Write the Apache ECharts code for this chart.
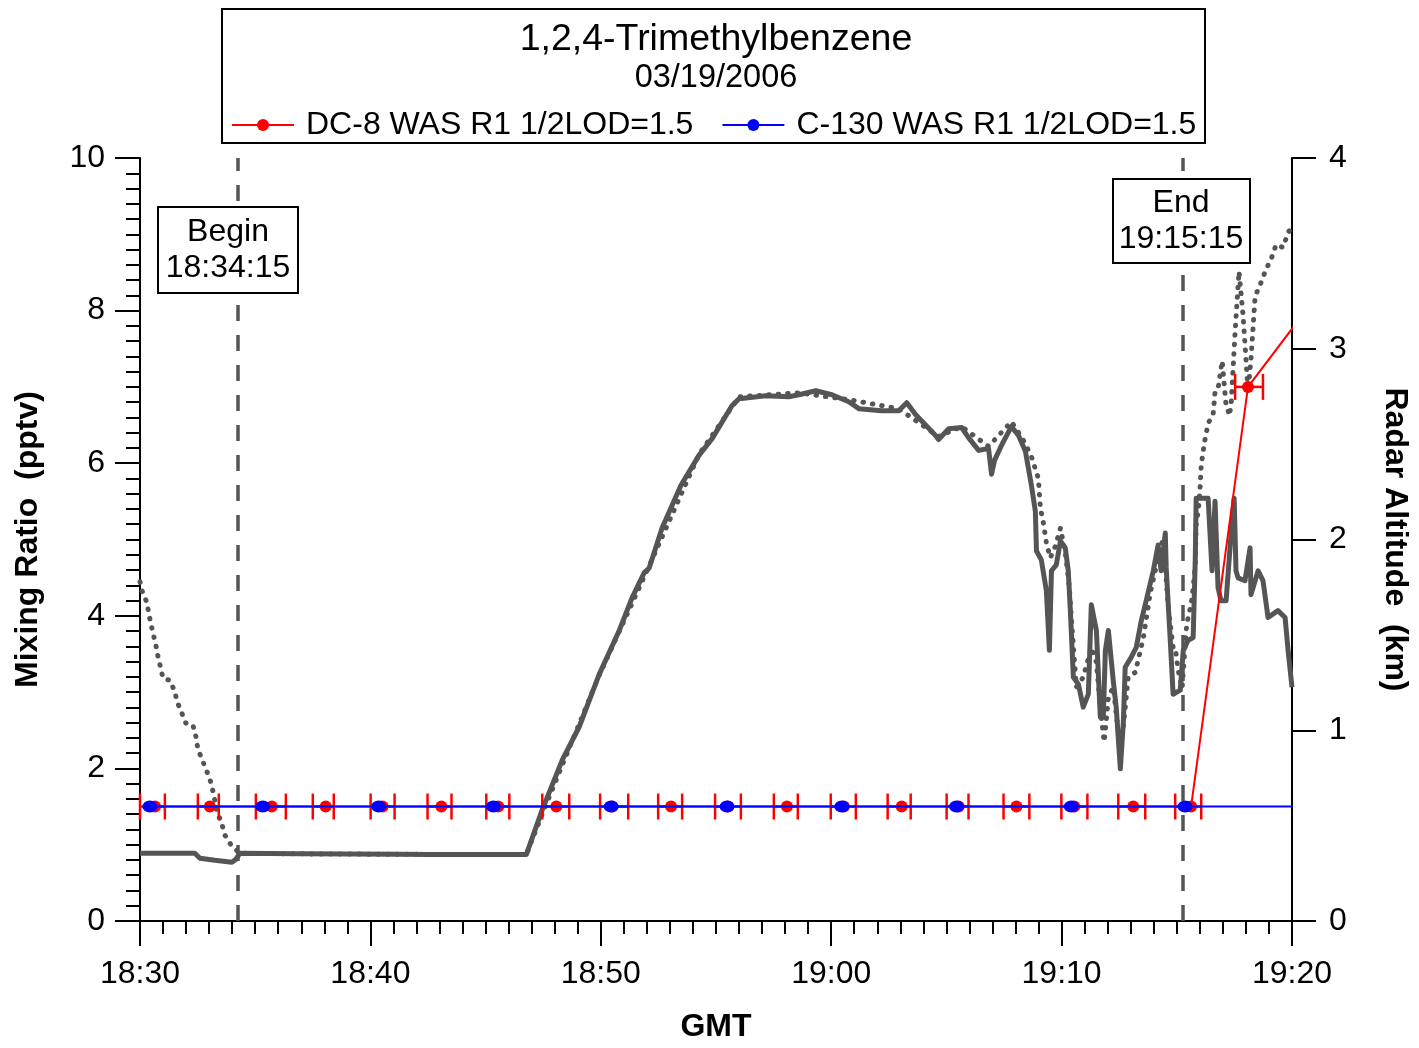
<!DOCTYPE html>
<html><head><meta charset="utf-8">
<script src="https://cdn.jsdelivr.net/npm/echarts@6/dist/echarts.min.js"></script>
<style>html,body{margin:0;padding:0;background:#fff}#c{width:1419px;height:1048px}</style>
</head><body><div id="c"></div>
<script>
// Times are minutes after 18:30 GMT
const xTickLabels = ['18:30','18:40','18:50','19:00','19:10','19:20'];
const beginTime = 4.25;   // 18:34:15
const endTime = 45.25;    // 19:15:15

// DC-8 WAS samples (mid time, start, end, mixing ratio pptv)
const dc8Mid   = [0.65,3.03,5.72,8.06,10.53,13.08,15.55,18.07,20.49,23.05,25.52,28.08,30.55,33.06,35.53,38.04,40.55,43.11,45.62,48.09,50.6];
const dc8Start = [0.0,2.51,5.03,7.50,10.01,12.48,15.03,17.46,19.97,22.49,24.96,27.51,29.98,32.45,35.01,37.48,39.99,42.46,44.93,47.53,50.0];
const dc8End   = [1.08,3.42,6.33,8.41,11.05,13.52,16.03,18.63,21.19,23.53,26.08,28.55,31.07,33.45,35.96,38.60,41.12,43.63,46.06,48.74,51.2];
const dc8Value = [1.5,1.5,1.5,1.5,1.5,1.5,1.5,1.5,1.5,1.5,1.5,1.5,1.5,1.5,1.5,1.5,1.5,1.5,1.5,7.0,8.0];

// C-130 WAS samples
const c130Time  = [0.43,5.33,10.36,15.34,20.45,25.48,30.46,35.44,40.42,45.36,50.4];
const c130Value = [1.5,1.5,1.5,1.5,1.5,1.5,1.5,1.5,1.5,1.5,1.5];

// Radar altitude (km), solid trace
const altSolidTime = [0.00,2.38,2.60,3.25,3.99,4.16,4.33,6.93,11.27,12.56,16.77,17.46,18.33,19.06,19.93,20.80,21.36,21.88,22.10,22.66,23.48,24.26,24.83,25.69,26.00,27.17,28.16,28.60,29.33,30.03,30.76,31.20,32.19,32.93,33.28,33.67,34.53,34.66,35.10,35.66,35.96,36.40,36.83,36.96,37.09,37.39,37.82,38.13,38.43,38.69,38.86,38.91,39.12,39.34,39.47,39.56,39.77,39.95,40.16,40.29,40.38,40.51,40.73,40.94,41.16,41.29,41.51,41.68,41.81,41.90,42.03,42.11,42.24,42.37,42.55,42.68,42.76,43.02,43.24,43.46,43.67,43.98,44.19,44.32,44.50,44.54,44.71,44.84,45.15,45.28,45.49,45.71,45.80,45.84,46.36,46.53,46.66,46.79,46.92,47.14,47.31,47.49,47.57,47.66,47.96,48.18,48.22,48.53,48.74,48.96,49.39,49.70,49.83,50.00];
const altSolidKm   = [0.355,0.355,0.329,0.318,0.308,0.323,0.355,0.352,0.350,0.349,0.349,0.584,0.845,1.017,1.293,1.523,1.695,1.825,1.851,2.060,2.284,2.441,2.529,2.701,2.738,2.754,2.748,2.759,2.780,2.759,2.722,2.686,2.675,2.675,2.717,2.654,2.545,2.524,2.581,2.587,2.534,2.467,2.477,2.342,2.415,2.493,2.592,2.545,2.462,2.284,2.149,1.940,1.893,1.731,1.419,1.836,1.867,1.992,1.956,1.836,1.627,1.278,1.241,1.121,1.189,1.658,1.523,1.069,1.069,1.419,1.523,1.523,1.262,1.121,0.798,1.043,1.330,1.382,1.434,1.575,1.679,1.836,1.971,1.836,2.034,1.851,1.486,1.189,1.210,1.419,1.471,1.486,1.888,2.216,2.216,1.836,2.201,1.747,1.679,1.679,1.956,2.216,1.836,1.799,1.784,1.956,1.711,1.836,1.784,1.591,1.627,1.591,1.419,1.226];

// Radar altitude (km), dotted trace
const altDotTime = [0.00,0.09,0.30,0.39,0.48,0.69,0.78,0.91,1.00,1.30,1.52,1.60,1.99,2.30,2.43,2.51,3.03,3.16,3.25,3.34,3.55,3.64,3.99,4.33,6.93,12.65,16.77,17.55,19.93,22.10,24.26,26.00,28.60,30.76,32.93,34.66,35.66,36.83,37.82,38.30,38.69,38.99,39.08,39.21,39.34,39.51,39.73,39.95,40.16,40.34,40.42,40.64,40.94,41.29,41.51,41.72,41.85,42.03,42.24,42.46,42.68,42.89,43.20,43.55,43.85,44.19,44.41,44.63,44.84,44.93,45.06,45.23,45.41,45.49,45.62,45.71,45.80,45.84,45.93,46.01,46.06,46.19,46.36,46.58,46.66,46.79,46.97,47.14,47.31,47.31,47.36,47.53,47.70,47.88,48.01,48.09,48.22,48.40,48.66,48.87,49.09,49.31,49.61,49.83,50.00];
const altDotKm   = [1.778,1.731,1.669,1.606,1.554,1.445,1.387,1.319,1.272,1.262,1.199,1.153,1.038,1.027,0.965,0.902,0.746,0.683,0.631,0.568,0.516,0.459,0.391,0.355,0.352,0.349,0.349,0.589,1.288,1.862,2.446,2.748,2.769,2.733,2.686,2.540,2.592,2.488,2.618,2.529,2.435,2.321,2.164,2.086,1.982,1.904,1.966,2.060,1.930,1.747,1.591,1.226,1.278,1.434,1.356,1.069,0.939,1.173,1.226,0.991,1.017,1.278,1.304,1.486,1.721,1.904,2.008,1.643,1.434,1.434,1.314,1.220,1.528,1.591,1.658,1.747,1.867,2.076,2.149,2.269,2.389,2.503,2.608,2.660,2.774,2.790,2.936,2.701,2.649,2.670,2.712,3.087,3.405,3.171,2.931,2.774,2.947,3.275,3.348,3.416,3.468,3.546,3.531,3.609,3.640,3.677,3.729];

const X_MAX = 50;
const FONT = '"Liberation Sans", Arial, sans-serif';

const zip = (a, b) => a.map((v, i) => [v, b[i]]);
const errRows = dc8Start.map((s, i) => [s, dc8End[i], dc8Value[i]]).filter(r => r[0] < X_MAX);

const chart = echarts.init(document.getElementById('c'), null, {renderer: 'canvas'});
chart.setOption({
  backgroundColor: '#ffffff',
  animation: false,
  textStyle: {fontFamily: FONT},
  grid: {left: 140, right: 125, top: 158, bottom: 123},
  title: {
    text: '1,2,4-Trimethylbenzene',
    subtext: '03/19/2006',
    left: 711, top: 16, textAlign: 'center', itemGap: 3,
    textStyle: {fontFamily: FONT, fontSize: 37.5, fontWeight: 'normal', color: '#000'},
    subtextStyle: {fontFamily: FONT, fontSize: 32.5, color: '#000'}
  },
  legend: {
    data: ['DC-8 WAS R1 1/2LOD=1.5', 'C-130 WAS R1 1/2LOD=1.5'],
    left: 226, top: 104, itemWidth: 62, itemHeight: 15, itemGap: 28,
    textStyle: {fontFamily: FONT, fontSize: 32, color: '#000', padding: [0, 0, 0, 7]}
  },
  xAxis: {
    type: 'value', min: 0, max: X_MAX, interval: 10,
    name: 'GMT', nameLocation: 'middle', nameGap: 90,
    nameTextStyle: {fontFamily: FONT, fontSize: 32, fontWeight: 'bold', color: '#000'},
    axisLine: {lineStyle: {color: '#000', width: 2}},
    axisTick: {length: 25, lineStyle: {color: '#000', width: 2}},
    minorTick: {show: true, splitNumber: 10, length: 13, lineStyle: {color: '#000', width: 2}},
    splitLine: {show: false},
    axisLabel: {margin: 37, fontFamily: FONT, fontSize: 32, color: '#000',
      formatter: v => xTickLabels[Math.round(v / 10)]}
  },
  yAxis: [{
    type: 'value', min: 0, max: 10, interval: 2, position: 'left',
    name: 'Mixing Ratio  (pptv)', nameLocation: 'middle', nameGap: 96,
    nameTextStyle: {fontFamily: FONT, fontSize: 32, fontWeight: 'bold', color: '#000'},
    axisLine: {show: true, lineStyle: {color: '#000', width: 2}},
    axisTick: {show: true, length: 25, lineStyle: {color: '#000', width: 2}},
    minorTick: {show: true, splitNumber: 10, length: 14, lineStyle: {color: '#000', width: 2}},
    splitLine: {show: false},
    axisLabel: {margin: 35, fontFamily: FONT, fontSize: 32, color: '#000'}
  }, {
    type: 'value', min: 0, max: 4, interval: 1, position: 'right',
    name: 'Radar Altitude  (km)', nameLocation: 'middle', nameGap: 87, nameRotate: -90,
    nameTextStyle: {fontFamily: FONT, fontSize: 32, fontWeight: 'bold', color: '#000'},
    axisLine: {show: true, lineStyle: {color: '#000', width: 2}},
    axisTick: {show: true, length: 24, lineStyle: {color: '#000', width: 2}},
    splitLine: {show: false},
    axisLabel: {margin: 37, fontFamily: FONT, fontSize: 32, color: '#000'}
  }],
  graphic: [
    {type: 'rect', shape: {x: 222, y: 9, width: 983, height: 134}, style: {fill: 'none', stroke: '#000', lineWidth: 2}, z: 100},
    {type: 'rect', shape: {x: 158, y: 207, width: 140, height: 86}, style: {fill: '#fff', stroke: '#000', lineWidth: 2}, z: 100},
    {type: 'text', x: 228, y: 250, style: {text: 'Begin\n18:34:15', font: '32px ' + FONT, align: 'center', verticalAlign: 'middle', lineHeight: 36, fill: '#000'}, z: 101},
    {type: 'rect', shape: {x: 1113, y: 179, width: 137, height: 84}, style: {fill: '#fff', stroke: '#000', lineWidth: 2}, z: 100},
    {type: 'text', x: 1181, y: 221, style: {text: 'End\n19:15:15', font: '32px ' + FONT, align: 'center', verticalAlign: 'middle', lineHeight: 36, fill: '#000'}, z: 101}
  ],
  series: [
    {
      name: 'Altitude (dotted)', type: 'line', yAxisIndex: 1, data: zip(altDotTime, altDotKm),
      symbol: 'none', z: 1, silent: true,
      lineStyle: {color: '#555555', width: 5, type: [0.5, 9], cap: 'round', join: 'round'}
    },
    {
      name: 'Altitude (solid)', type: 'line', yAxisIndex: 1, data: zip(altSolidTime, altSolidKm),
      symbol: 'none', z: 1, silent: true,
      lineStyle: {color: '#555555', width: 5, join: 'round'},
      markLine: {
        silent: true, symbol: ['none', 'none'], label: {show: false},
        lineStyle: {color: '#555555', width: 3.5, type: [16, 14]},
        data: [{xAxis: beginTime}, {xAxis: endTime}]
      }
    },
    {
      name: 'DC-8 error', type: 'custom', z: 2, silent: true,
      data: errRows, encode: {x: [0, 1], y: 2},
      renderItem: (params, api) => {
        const s = api.coord([api.value(0), api.value(2)]);
        const e = api.coord([api.value(1), api.value(2)]);
        const h = 13;
        const st = {stroke: '#ff0000', lineWidth: 2.5};
        return {type: 'group', children: [
          {type: 'line', shape: {x1: s[0], y1: s[1], x2: e[0], y2: e[1]}, style: st},
          {type: 'line', shape: {x1: s[0], y1: s[1] - h, x2: s[0], y2: s[1] + h}, style: st},
          {type: 'line', shape: {x1: e[0], y1: e[1] - h, x2: e[0], y2: e[1] + h}, style: st}
        ]};
      }
    },
    {
      name: 'DC-8 WAS R1 1/2LOD=1.5', type: 'line', data: zip(dc8Mid, dc8Value), z: 3,
      symbol: 'circle', symbolSize: 12, color: '#ff0000',
      itemStyle: {color: '#ff0000'}, lineStyle: {color: '#ff0000', width: 2}
    },
    {
      name: 'C-130 WAS R1 1/2LOD=1.5', type: 'line', data: zip(c130Time, c130Value), z: 4,
      symbol: 'circle', symbolSize: [15, 12], color: '#0000ff',
      itemStyle: {color: '#0000ff'}, lineStyle: {color: '#0000ff', width: 2}
    }
  ]
});
</script></body></html>
